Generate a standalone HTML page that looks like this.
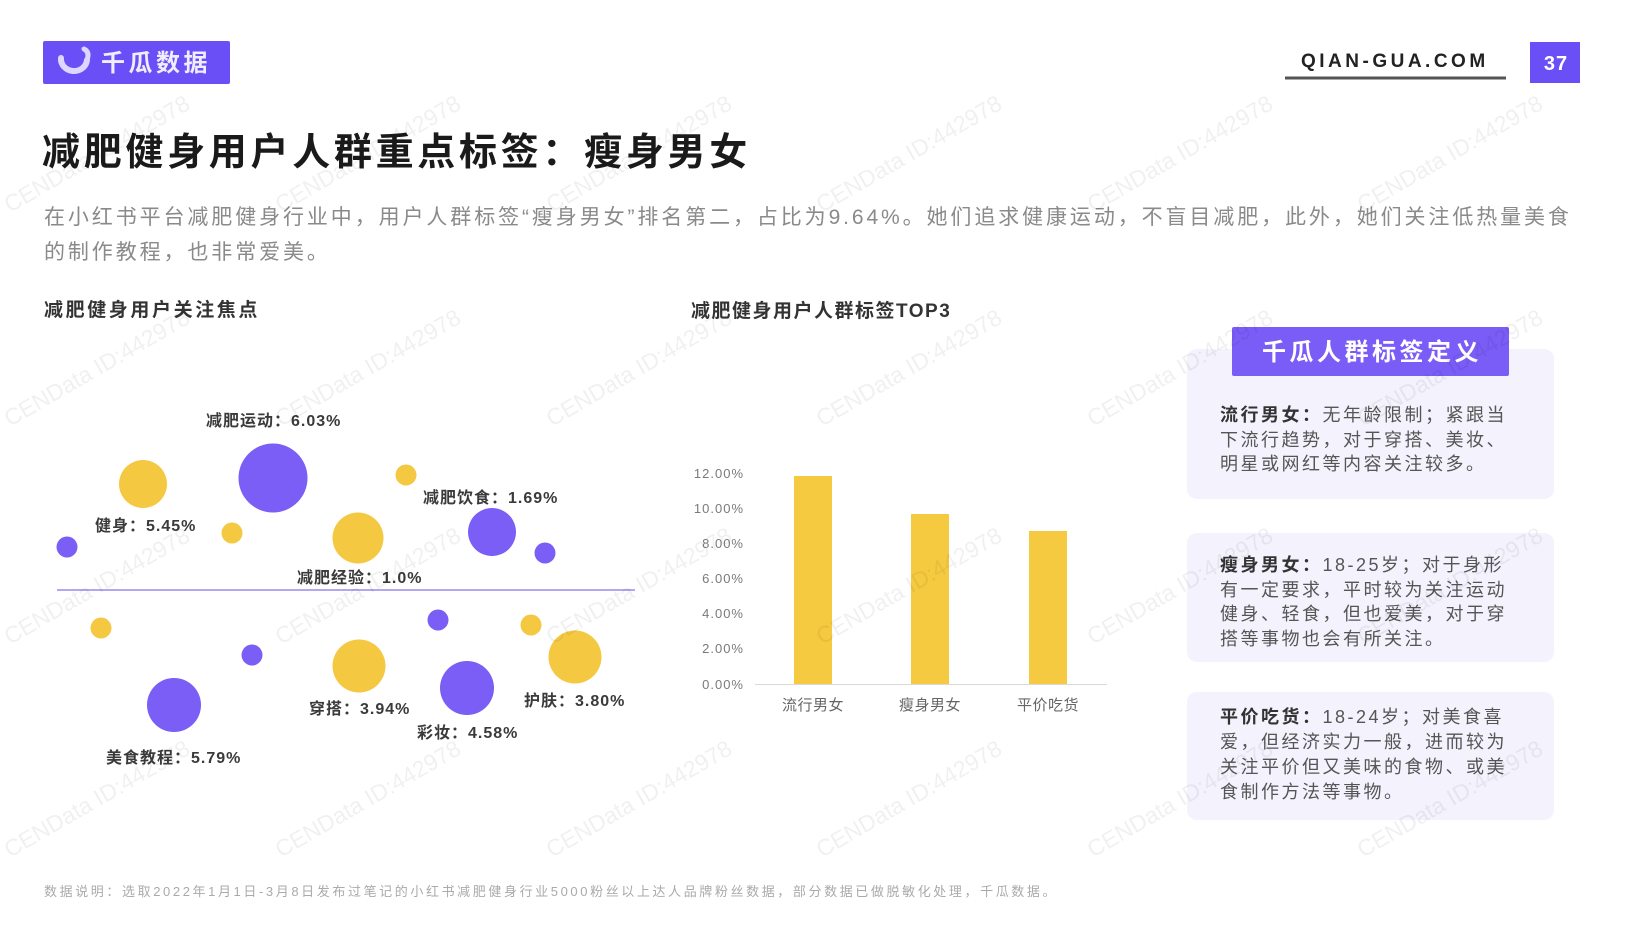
<!DOCTYPE html>
<html>
<head>
<meta charset="utf-8">
<style>
  html,body{margin:0;padding:0;background:#fff;}
  body{width:1632px;height:926px;overflow:hidden;}
  svg{display:block;}
  text{font-family:"Liberation Sans","Noto Sans CJK SC","WenQuanYi Zen Hei",sans-serif;}
  .b{font-weight:bold;}
  .lbl{font-size:16px;font-weight:bold;fill:#3a3a3a;letter-spacing:1px;}
  .tick{font-size:13px;fill:#7a7a7a;letter-spacing:1px;}
  .cat{font-size:15px;fill:#666;letter-spacing:0.5px;}
  .card{font-size:18px;fill:#555;letter-spacing:2.5px;}
  .cardb{font-weight:bold;fill:#333;}
  .wm{font-size:23px;fill:#000;fill-opacity:0.06;}
</style>
</head>
<body>
<svg width="1632" height="926" viewBox="0 0 1632 926" xmlns="http://www.w3.org/2000/svg">
  <rect width="1632" height="926" fill="#ffffff"/>

  <!-- Header logo -->
  <rect x="43" y="41" width="187" height="43" rx="2" fill="#6b4ff6"/>
  <path d="M61 58 A13 12 0 0 0 87 60" fill="none" stroke="#ddd6ff" stroke-width="6" stroke-linecap="round"/>
  <path d="M87 60 Q90 52 84 49" fill="none" stroke="#ddd6ff" stroke-width="5" stroke-linecap="round"/>
  <text x="101" y="71" class="b" font-size="24" fill="#f0edff" letter-spacing="3.5">千瓜数据</text>

  <!-- Header right -->
  <text x="1301" y="67" class="b" font-size="19" fill="#222" letter-spacing="3.5">QIAN-GUA.COM</text>
  <rect x="1285" y="76.5" width="221" height="3" fill="#555"/>
  <rect x="1530" y="42" width="50" height="41" fill="#6b4ff6"/>
  <text x="1556" y="70" class="b" font-size="20" fill="#fff" text-anchor="middle" letter-spacing="1">37</text>

  <!-- Title -->
  <text x="42" y="165" class="b" font-size="38" fill="#1a1a1a" letter-spacing="3.7">减肥健身用户人群重点标签：瘦身男女</text>

  <!-- Description -->
  <text x="44" y="224" font-size="21" fill="#8a8a8a" letter-spacing="2.9">在小红书平台减肥健身行业中，用户人群标签“瘦身男女”排名第二，占比为9.64%。她们追求健康运动，不盲目减肥，此外，她们关注低热量美食</text>
  <text x="44" y="259" font-size="21" fill="#8a8a8a" letter-spacing="2.9">的制作教程，也非常爱美。</text>

  <!-- Chart titles -->
  <text x="44" y="316" class="b" font-size="19" fill="#333" letter-spacing="2.6">减肥健身用户关注焦点</text>
  <text x="691" y="317" class="b" font-size="19" fill="#333" letter-spacing="1.5">减肥健身用户人群标签TOP3</text>

  <!-- Bubble chart -->
  <line x1="57" y1="590" x2="635" y2="590" stroke="#b3a6f7" stroke-width="2"/>
  <g fill="#7b5ef6">
    <circle cx="67" cy="547" r="10.5"/>
    <circle cx="273" cy="478" r="34.5"/>
    <circle cx="492" cy="532" r="24"/>
    <circle cx="545" cy="553" r="10.5"/>
    <circle cx="252" cy="655" r="10.5"/>
    <circle cx="174" cy="705" r="27"/>
    <circle cx="438" cy="620" r="10.5"/>
    <circle cx="467" cy="688" r="27"/>
  </g>
  <g fill="#f5c842">
    <circle cx="143" cy="484" r="24"/>
    <circle cx="232" cy="533" r="10.5"/>
    <circle cx="406" cy="475" r="10.5"/>
    <circle cx="358" cy="538" r="25.5"/>
    <circle cx="101" cy="628" r="10.5"/>
    <circle cx="359" cy="666" r="26.5"/>
    <circle cx="531" cy="625" r="10.5"/>
    <circle cx="575" cy="657" r="26.5"/>
  </g>
  <text class="lbl" x="206" y="426">减肥运动：6.03%</text>
  <text class="lbl" x="95" y="531">健身：5.45%</text>
  <text class="lbl" x="423" y="503">减肥饮食：1.69%</text>
  <text class="lbl" x="297" y="583">减肥经验：1.0%</text>
  <text class="lbl" x="309" y="714">穿搭：3.94%</text>
  <text class="lbl" x="417" y="738">彩妆：4.58%</text>
  <text class="lbl" x="524" y="706">护肤：3.80%</text>
  <text class="lbl" x="106" y="763">美食教程：5.79%</text>

  <!-- Bar chart -->
  <g text-anchor="end">
    <text class="tick" x="744" y="478">12.00%</text>
    <text class="tick" x="744" y="513">10.00%</text>
    <text class="tick" x="744" y="548">8.00%</text>
    <text class="tick" x="744" y="583">6.00%</text>
    <text class="tick" x="744" y="618">4.00%</text>
    <text class="tick" x="744" y="653">2.00%</text>
    <text class="tick" x="744" y="689">0.00%</text>
  </g>
  <line x1="755" y1="684.5" x2="1107" y2="684.5" stroke="#d9d9d9" stroke-width="1"/>
  <g fill="#f5c940">
    <rect x="794" y="476" width="38" height="208"/>
    <rect x="911" y="514" width="38" height="170"/>
    <rect x="1029" y="531" width="38" height="153"/>
  </g>
  <g text-anchor="middle">
    <text class="cat" x="813" y="710">流行男女</text>
    <text class="cat" x="930" y="710">瘦身男女</text>
    <text class="cat" x="1048" y="710">平价吃货</text>
  </g>

  <!-- Right panel -->
  <rect x="1187" y="349" width="367" height="150" rx="10" fill="#f4f2fd"/>
  <rect x="1187" y="533" width="367" height="129" rx="10" fill="#f4f2fd"/>
  <rect x="1187" y="692" width="367" height="128" rx="10" fill="#f4f2fd"/>
  <rect x="1232" y="327" width="277" height="49" rx="2" fill="#7a5cf6"/>
  <text x="1372" y="360" class="b" font-size="24" fill="#fff" text-anchor="middle" letter-spacing="3.5">千瓜人群标签定义</text>

  <text class="card" x="1220" y="421"><tspan class="cardb">流行男女：</tspan>无年龄限制；紧跟当</text>
  <text class="card" x="1220" y="446">下流行趋势，对于穿搭、美妆、</text>
  <text class="card" x="1220" y="470">明星或网红等内容关注较多。</text>

  <text class="card" x="1220" y="571"><tspan class="cardb">瘦身男女：</tspan>18-25岁；对于身形</text>
  <text class="card" x="1220" y="596">有一定要求，平时较为关注运动</text>
  <text class="card" x="1220" y="620">健身、轻食，但也爱美，对于穿</text>
  <text class="card" x="1220" y="645">搭等事物也会有所关注。</text>

  <text class="card" x="1220" y="723"><tspan class="cardb">平价吃货：</tspan>18-24岁；对美食喜</text>
  <text class="card" x="1220" y="748">爱，但经济实力一般，进而较为</text>
  <text class="card" x="1220" y="773">关注平价但又美味的食物、或美</text>
  <text class="card" x="1220" y="798">食制作方法等事物。</text>

  <!-- Footer -->
  <text x="44" y="896" font-size="13" fill="#aaa" letter-spacing="2.6">数据说明：选取2022年1月1日-3月8日发布过笔记的小红书减肥健身行业5000粉丝以上达人品牌粉丝数据，部分数据已做脱敏化处理，千瓜数据。</text>

  <!-- Watermarks -->
  <g>
    <text class="wm" transform="translate(10,213) rotate(-30)">CENData ID:442978</text>
    <text class="wm" transform="translate(281,213) rotate(-30)">CENData ID:442978</text>
    <text class="wm" transform="translate(552,213) rotate(-30)">CENData ID:442978</text>
    <text class="wm" transform="translate(822,213) rotate(-30)">CENData ID:442978</text>
    <text class="wm" transform="translate(1093,213) rotate(-30)">CENData ID:442978</text>
    <text class="wm" transform="translate(1363,213) rotate(-30)">CENData ID:442978</text>

    <text class="wm" transform="translate(10,427) rotate(-30)">CENData ID:442978</text>
    <text class="wm" transform="translate(281,427) rotate(-30)">CENData ID:442978</text>
    <text class="wm" transform="translate(552,427) rotate(-30)">CENData ID:442978</text>
    <text class="wm" transform="translate(822,427) rotate(-30)">CENData ID:442978</text>
    <text class="wm" transform="translate(1093,427) rotate(-30)">CENData ID:442978</text>
    <text class="wm" transform="translate(1363,427) rotate(-30)">CENData ID:442978</text>

    <text class="wm" transform="translate(10,645) rotate(-30)">CENData ID:442978</text>
    <text class="wm" transform="translate(281,645) rotate(-30)">CENData ID:442978</text>
    <text class="wm" transform="translate(552,645) rotate(-30)">CENData ID:442978</text>
    <text class="wm" transform="translate(822,645) rotate(-30)">CENData ID:442978</text>
    <text class="wm" transform="translate(1093,645) rotate(-30)">CENData ID:442978</text>
    <text class="wm" transform="translate(1363,645) rotate(-30)">CENData ID:442978</text>

    <text class="wm" transform="translate(10,858) rotate(-30)">CENData ID:442978</text>
    <text class="wm" transform="translate(281,858) rotate(-30)">CENData ID:442978</text>
    <text class="wm" transform="translate(552,858) rotate(-30)">CENData ID:442978</text>
    <text class="wm" transform="translate(822,858) rotate(-30)">CENData ID:442978</text>
    <text class="wm" transform="translate(1093,858) rotate(-30)">CENData ID:442978</text>
    <text class="wm" transform="translate(1363,858) rotate(-30)">CENData ID:442978</text>
  </g>
</svg>
</body>
</html>
